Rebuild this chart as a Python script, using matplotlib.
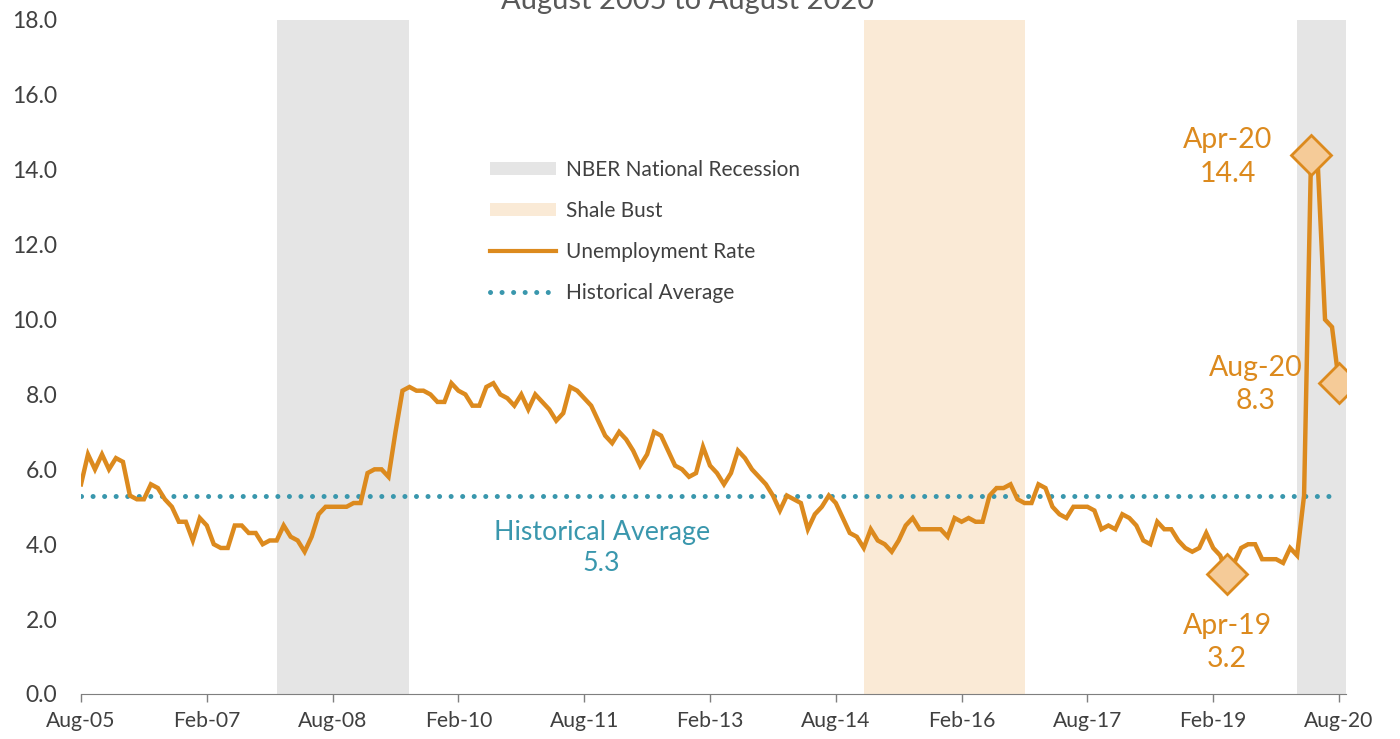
import numpy as np
import pandas as pd
from matplotlib import pyplot as plt
from matplotlib.patches import Patch
from matplotlib.lines import Line2D

plt.rcParams['font.family'] = ['Lato', 'DejaVu Sans']

# monthly unemployment rate, Aug-05 .. Aug-20
rate = [5.6, 6.4, 6.0, 6.4, 6.0, 6.3, 6.2, 5.3, 5.2, 5.2, 5.6, 5.5,
        5.2, 5.0, 4.6, 4.6, 4.1, 4.7, 4.5, 4.0, 3.9, 3.9, 4.5, 4.5,
        4.3, 4.3, 4.0, 4.1, 4.1, 4.5, 4.2, 4.1, 3.8, 4.2, 4.8, 5.0,
        5.0, 5.0, 5.0, 5.1, 5.1, 5.9, 6.0, 6.0, 5.8, 7.0, 8.1, 8.2,
        8.1, 8.1, 8.0, 7.8, 7.8, 8.3, 8.1, 8.0, 7.7, 7.7, 8.2, 8.3,
        8.0, 7.9, 7.7, 8.0, 7.6, 8.0, 7.8, 7.6, 7.3, 7.5, 8.2, 8.1,
        7.9, 7.7, 7.3, 6.9, 6.7, 7.0, 6.8, 6.5, 6.1, 6.4, 7.0, 6.9,
        6.5, 6.1, 6.0, 5.8, 5.9, 6.6, 6.1, 5.9, 5.6, 5.9, 6.5, 6.3,
        6.0, 5.8, 5.6, 5.3, 4.9, 5.3, 5.2, 5.1, 4.4, 4.8, 5.0, 5.3,
        5.1, 4.7, 4.3, 4.2, 3.9, 4.4, 4.1, 4.0, 3.8, 4.1, 4.5, 4.7,
        4.4, 4.4, 4.4, 4.4, 4.2, 4.7, 4.6, 4.7, 4.6, 4.6, 5.3, 5.5,
        5.5, 5.6, 5.2, 5.1, 5.1, 5.6, 5.5, 5.0, 4.8, 4.7, 5.0, 5.0,
        5.0, 4.9, 4.4, 4.5, 4.4, 4.8, 4.7, 4.5, 4.1, 4.0, 4.6, 4.4,
        4.4, 4.1, 3.9, 3.8, 3.9, 4.3, 3.9, 3.7, 3.2, 3.5, 3.9, 4.0,
        4.0, 3.6, 3.6, 3.6, 3.5, 3.9, 3.7, 5.3, 14.4, 14.0, 10.0, 9.8,
        8.3]
hist_avg = 5.3

months = pd.date_range('2005-08-01', periods=len(rate), freq='MS')
recessions = [('2007-12', '2009-07'), ('2020-02', '2020-09')]
shale_bust = [('2014-12', '2016-11')]
highlights = ['2020-04', '2020-08', '2019-04']

def midx(s):
    d = pd.Timestamp(s)
    return (d.year - months[0].year) * 12 + d.month - months[0].month

x = np.arange(len(rate))

orange = '#dc8a1e'
teal = '#3a97ad'
grey_txt = '#404040'

fig = plt.figure(figsize=(14, 7.39), dpi=100)
ax = fig.add_axes([81/1400, 1 - 694/739, (1346 - 81)/1400, (694 - 20)/739])

for a, b in recessions:
    ax.axvspan(midx(a), midx(b), color='#e5e5e5', lw=0, zorder=0)
for a, b in shale_bust:
    ax.axvspan(midx(a), midx(b), color='#faead6', lw=0, zorder=0)

ax.plot(x[:-1], [hist_avg] * (len(x) - 1), color=teal, lw=3.6,
        linestyle=(0, (0.01, 2.3)), dash_capstyle='round', zorder=2)
ax.plot(x, rate, color=orange, lw=3.2, solid_joinstyle='miter', zorder=3)

hx = [midx(h) for h in highlights]
hy = [rate[i] for i in hx]
ax.plot(hx, hy, 'D', ms=20, mfc='#f5cb98', mec=orange, mew=2, zorder=4)

lab_off = [(-60, -1.5), (-60, -1), (0, -49)]
for i, v, off in zip(hx, hy, lab_off):
    ax.annotate(months[i].strftime('%b-%y') + '\n' + f'{v:.1f}', (i, v),
                xytext=off, textcoords='offset points', ha='center', va='center',
                fontsize=20.5, color=orange, linespacing=1.35)

ax.text(74.5, 3.9, 'Historical Average\n' + f'{hist_avg:.1f}', ha='center', va='center',
        fontsize=19.3, color=teal, linespacing=1.3)

ax.set_xlim(0, len(rate))
ax.set_ylim(0, 18)
ax.set_yticks(np.arange(0, 18.1, 2))
ax.set_yticklabels([f'{t:.1f}' for t in np.arange(0, 18.1, 2)])
tick_pos = x[::18]
ax.set_xticks(tick_pos)
ax.set_xticklabels(months[tick_pos].strftime('%b-%y'))
ax.tick_params(axis='y', length=0, pad=17, labelsize=16.5, labelcolor=grey_txt)
ax.tick_params(axis='x', length=6, width=1, color='#7f7f7f', pad=6, labelsize=15.2,
               labelcolor=grey_txt)
for s in ['top', 'right', 'left']:
    ax.spines[s].set_visible(False)
ax.spines['bottom'].set_color('#7f7f7f')

handles = [Patch(color='#e5e5e5', lw=0), Patch(color='#faead6', lw=0),
           Line2D([], [], color=orange, lw=3),
           Line2D([], [], color=teal, lw=3.6, linestyle=(0, (0.01, 2.3)), dash_capstyle='round')]
labels = ['NBER National Recession', 'Shale Bust', 'Unemployment Rate', 'Historical Average']
ax.legend(handles, labels, loc='upper left', bbox_to_anchor=(0.323, 0.792), frameon=False,
          fontsize=15, labelcolor=grey_txt, handlelength=3.2, handleheight=0.6,
          labelspacing=1.0, handletextpad=0.45, borderpad=0, borderaxespad=0)

fig.text(0.491, 1 - 9/739, 'August 2005 to August 2020', ha='center', va='baseline',
         fontsize=21, color='#595959')

fig.savefig('out.png', dpi=100)
